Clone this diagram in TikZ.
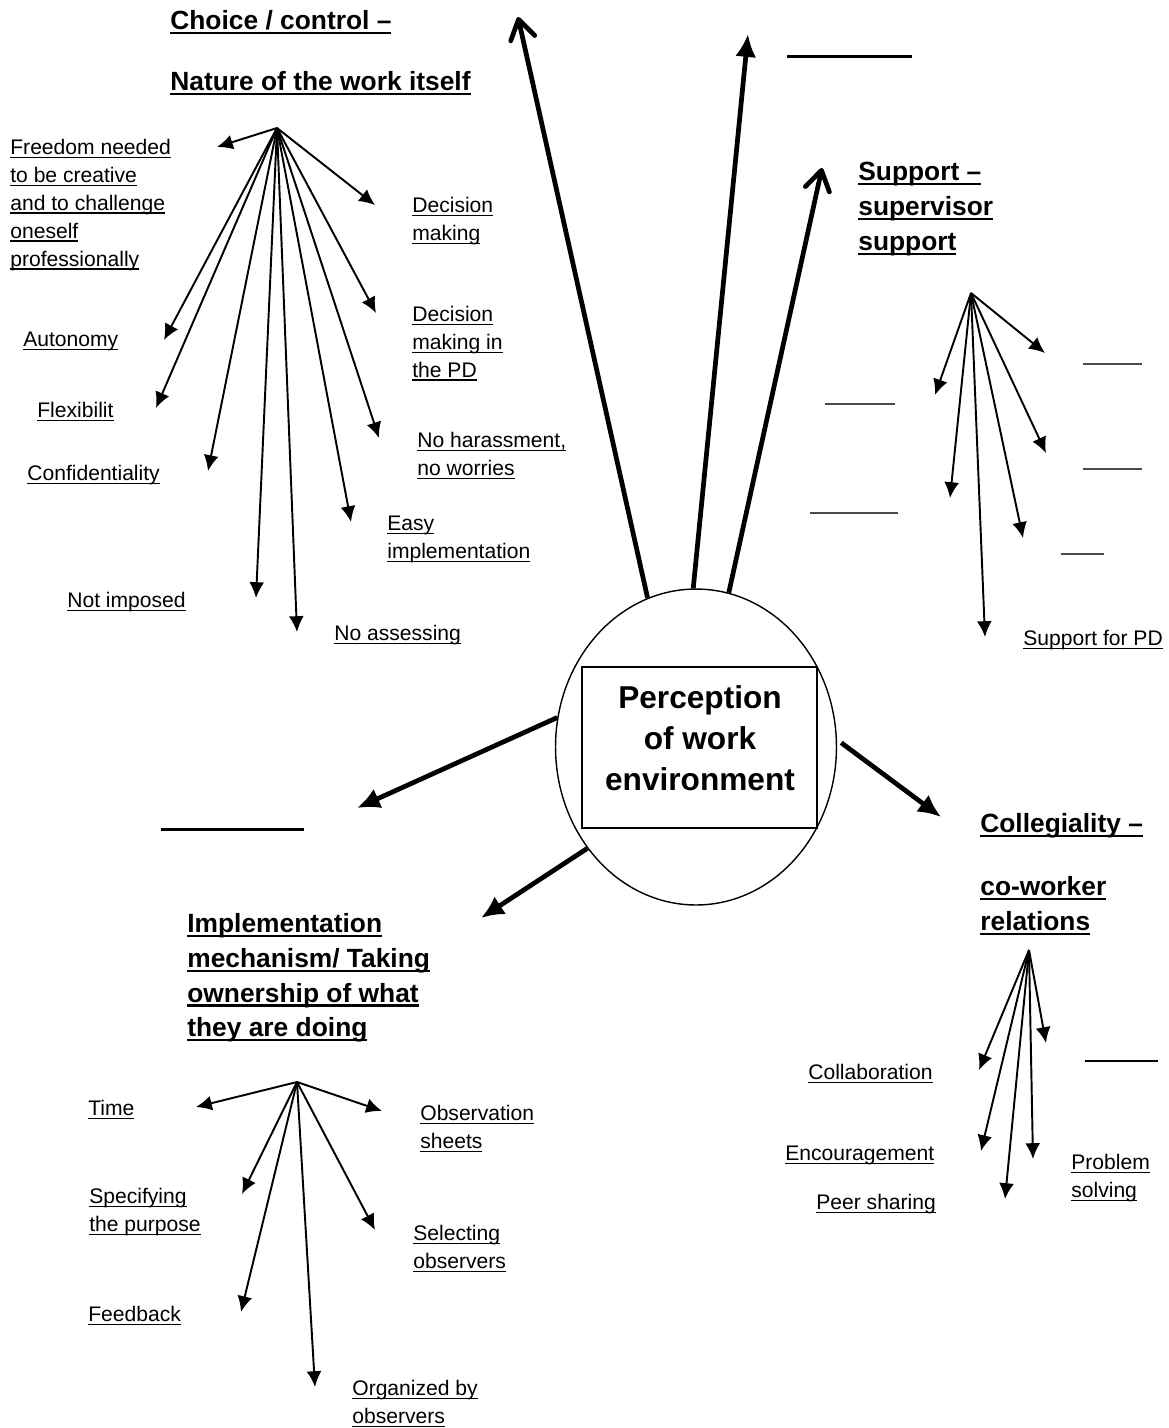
\documentclass[tikz,border=0pt]{standalone}
\usepackage{fontspec}
\setmainfont{Liberation Sans}
\usetikzlibrary{arrows.meta,shapes.geometric}

% underlined text, thin for items and heavy for headings
\newcommand{\uln}[1]{\leavevmode\setbox0=\hbox{#1}\rlap{\rule[-1.8pt]{\wd0}{0.7pt}}\box0}
\newcommand{\ulh}[1]{\leavevmode\setbox0=\hbox{#1}\rlap{\rule[-2.6pt]{\wd0}{1.2pt}}\box0}

\begin{document}
\begin{tikzpicture}[x=0.02cm,y=-0.02cm,
  lab/.style={anchor=north west,inner sep=0pt,align=left,font=\fontsize{12}{15.9}\selectfont},
  head/.style={anchor=north west,inner sep=0pt,align=left,font=\fontsize{15}{19.8}\selectfont\bfseries},
  twig/.style={line width=1.1pt,-{Latex[length=9pt,width=8.5pt]}},
  bough/.style={line width=2.7pt,-{Latex[length=13pt,width=12pt]}},
  barb/.style={line width=2.7pt,-{Straight Barb[length=11pt,width=14pt,round]}},
  blank/.style={line width=1.7pt},
  gap/.style={line width=0.6pt,black!70}]

\useasboundingbox (0,0) rectangle (1169,1428);

\node[draw,ellipse,line width=0.8pt,minimum width=5.62cm,minimum height=6.32cm,inner sep=0pt] (env) at (696,747) {};
\node[draw,line width=0.8pt,minimum width=4.7cm,minimum height=3.22cm,inner sep=0pt] (box) at (699.5,747.5) {};
\node[font=\fontsize{18}{23.5}\selectfont\bfseries,align=center] (perc) at (700,738) {Perception\\of work\\environment};

\coordinate (upA) at (518,17);
\coordinate (upB) at (748,34);
\coordinate (upC) at (822,168);
\coordinate (leftA) at (357,808);
\coordinate (leftB) at (481,918);
\coordinate (rightA) at (941,817);

\draw[barb]  (env.108.5) --(upA);
\draw[bough] (env.91.8) --(upB);
\draw[barb]  (env.78.8) --(upC);
\draw[bough] (env.168.4) --(leftA);
\draw[bough] (env.223) --(leftB);
\draw[bough,shorten <=3pt] (env.3.5) --(rightA);

\draw[blank] (787,56) -- (912,56);
\draw[blank] (161,829) -- (304,829);

% choice / control
\node[head] (choice) at (170,10) {\ulh{Choice / control –}\\[15pt]\ulh{Nature of the work itself}};

\coordinate (choiceO) at (277,128);
\coordinate (choiceT1) at (217,147);
\coordinate (choiceT2) at (375,205);
\coordinate (choiceT3) at (164,340);
\coordinate (choiceT4) at (376,313);
\coordinate (choiceT5) at (156,408);
\coordinate (choiceT6) at (379,438);
\coordinate (choiceT7) at (208,471);
\coordinate (choiceT8) at (351,522);
\coordinate (choiceT9) at (256,598);
\coordinate (choiceT10) at (297,632);

\draw[twig] (choiceO) --(choiceT1);
\draw[twig] (choiceO) --(choiceT2);
\draw[twig] (choiceO) --(choiceT3);
\draw[twig] (choiceO) --(choiceT4);
\draw[twig] (choiceO) --(choiceT5);
\draw[twig] (choiceO) --(choiceT6);
\draw[twig] (choiceO) --(choiceT7);
\draw[twig] (choiceO) --(choiceT8);
\draw[twig] (choiceO) --(choiceT9);
\draw[twig] (choiceO) --(choiceT10);

\node[lab] (freedom) at (10,139) {\uln{Freedom needed}\\\uln{to be creative}\\\uln{and to challenge}\\\uln{oneself}\\\uln{professionally}};
\node[lab] (decide) at (412,197) {\uln{Decision}\\\uln{making}};
\node[lab] (autonomy) at (23,332) {\uln{Autonomy}};
\node[lab] (decidePD) at (412,306) {\uln{Decision}\\\uln{making in}\\\uln{the PD}};
\node[lab] (flexi) at (37,402) {\uln{Flexibilit}};
\node[lab] (harass) at (417,432) {\uln{No harassment,}\\\uln{no worries}};
\node[lab] (confid) at (27,465) {\uln{Confidentiality}};
\node[lab] (easy) at (387,516) {\uln{Easy}\\\uln{implementation}};
\node[lab] (notimp) at (67,592) {\uln{Not imposed}};
\node[lab] (noass) at (334,625) {\uln{No assessing}};

% support
\node[head] (support) at (858,162) {\ulh{Support –}\\\ulh{supervisor}\\\ulh{support}};

\coordinate (suppO) at (971,293);
\coordinate (suppT1) at (935,395);
\coordinate (suppT2) at (1045,353);
\coordinate (suppT3) at (950,498);
\coordinate (suppT4) at (1046,453);
\coordinate (suppT5) at (1023,538);
\coordinate (suppT6) at (985,637);

\draw[twig] (suppO) --(suppT1);
\draw[twig] (suppO) --(suppT2);
\draw[twig] (suppO) --(suppT3);
\draw[twig] (suppO) --(suppT4);
\draw[twig] (suppO) --(suppT5);
\draw[twig] (suppO) --(suppT6);

\draw[gap] (1083,364) -- (1142,364);
\draw[gap] (825,404) -- (895,404);
\draw[gap] (1083,469) -- (1142,469);
\draw[gap] (810,513) -- (898,513);
\draw[gap] (1061,554) -- (1104,554);

\node[lab] (suppPD) at (1023,630) {\uln{Support for PD}};

% collegiality
\node[head] (colleg) at (980,813) {\ulh{Collegiality –}\\[16pt]\ulh{co-worker}\\\ulh{relations}};

\coordinate (collO) at (1029,950);
\coordinate (collT1) at (979,1070);
\coordinate (collT2) at (1046,1043);
\coordinate (collT3) at (981,1151);
\coordinate (collT4) at (1033,1159);
\coordinate (collT5) at (1005,1199);

\draw[twig] (collO) --(collT1);
\draw[twig] (collO) --(collT2);
\draw[twig] (collO) --(collT3);
\draw[twig] (collO) --(collT4);
\draw[twig] (collO) --(collT5);

\draw[line width=1.2pt] (1085,1061) -- (1158,1061);

\node[lab] (collab) at (808,1064) {\uln{Collaboration}};
\node[lab] (encour) at (785,1146) {\uln{Encouragement}};
\node[lab] (peer) at (816,1194) {\uln{Peer sharing}};
\node[lab] (problem) at (1071,1154) {\uln{Problem}\\\uln{solving}};

% implementation
\node[head] (implem) at (187,913) {\ulh{Implementation}\\\ulh{mechanism/ Taking}\\\ulh{ownership of what}\\\ulh{they are doing}};

\coordinate (implO) at (297,1082);
\coordinate (implT1) at (196,1107);
\coordinate (implT2) at (382,1111);
\coordinate (implT3) at (242,1194);
\coordinate (implT4) at (375,1230);
\coordinate (implT5) at (241,1312);
\coordinate (implT6) at (315,1387);

\draw[twig] (implO) --(implT1);
\draw[twig] (implO) --(implT2);
\draw[twig] (implO) --(implT3);
\draw[twig] (implO) --(implT4);
\draw[twig] (implO) --(implT5);
\draw[twig] (implO) --(implT6);

\node[lab] (time) at (88,1100) {\uln{Time}};
\node[lab] (obsheet) at (420,1105) {\uln{Observation}\\\uln{sheets}};
\node[lab] (purpose) at (89,1188) {\uln{Specifying}\\\uln{the purpose}};
\node[lab] (selobs) at (413,1225) {\uln{Selecting}\\\uln{observers}};
\node[lab] (feedback) at (88,1306) {\uln{Feedback}};
\node[lab] (orgobs) at (352,1380) {\uln{Organized by}\\\uln{observers}};

\end{tikzpicture}
\end{document}
